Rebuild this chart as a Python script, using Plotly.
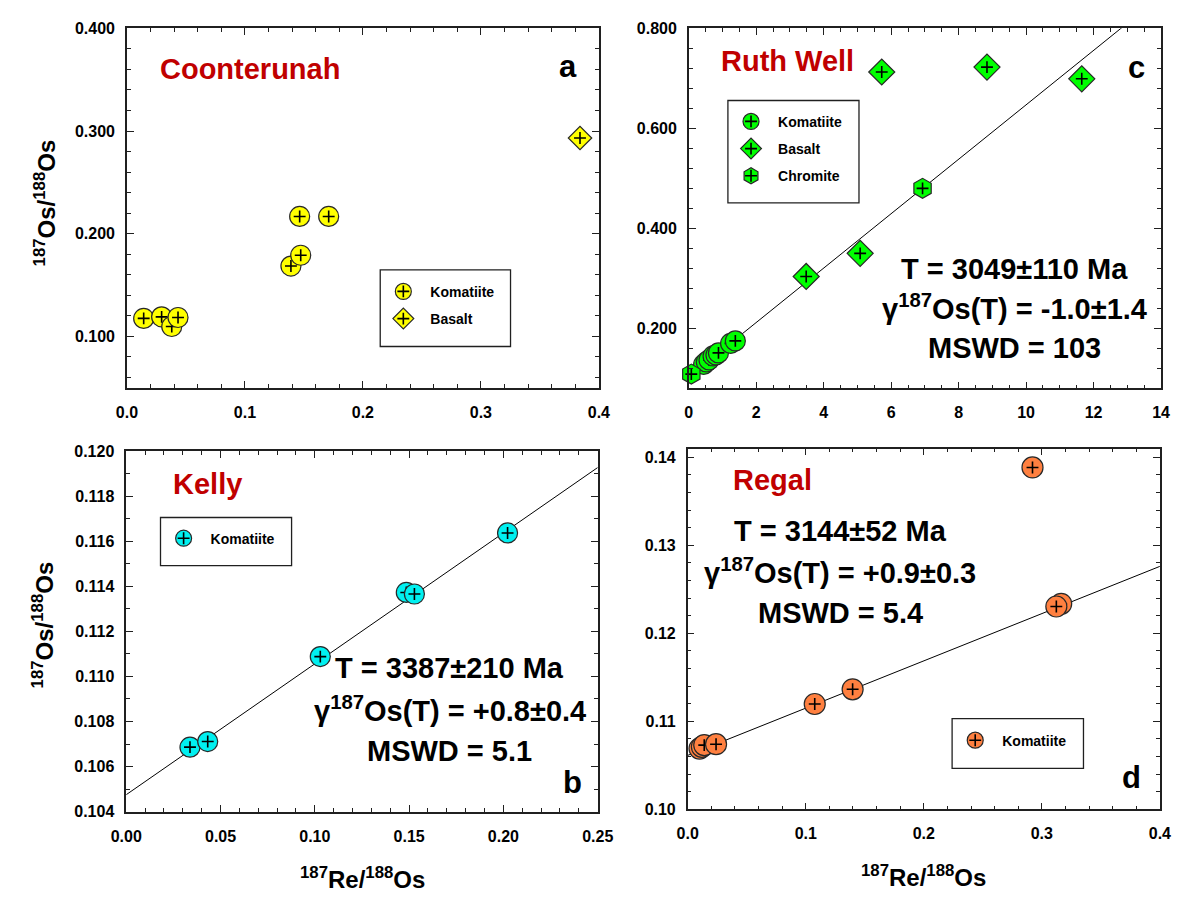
import plotly.graph_objects as go

FONT = "Liberation Sans, Arial, Helvetica, sans-serif"
W, H = 1189, 903

# ---------------- data ----------------
# (a) Coonterunah
coon_kom_re = [0.0142, 0.0294, 0.0380, 0.0433, 0.1390, 0.1473, 0.1464, 0.1710]
coon_kom_os = [0.1175, 0.1190, 0.1096, 0.1184, 0.1685, 0.1790, 0.2168, 0.2168]
coon_bas_re = [0.384]
coon_bas_os = [0.2932]

# (c) Ruth Well
ruth_kom_re = [0.44, 0.52, 0.60, 0.72, 0.805, 0.88, 1.24, 1.38]
ruth_kom_os = [0.128, 0.133, 0.137, 0.145, 0.147, 0.151, 0.170, 0.175]
ruth_bas_re = [5.72, 8.84, 11.65, 3.48, 5.08]
ruth_bas_os = [0.7126, 0.7224, 0.6990, 0.3038, 0.3500]
ruth_chr_re = [0.075, 6.93]
ruth_chr_os = [0.1086, 0.4800]
ruth_fit = {"intercept": 0.103, "slope": 0.0544}

# (b) Kelly
kelly_kom_re = [0.0338, 0.0432, 0.1029, 0.1485, 0.1528, 0.2022]
kelly_kom_os = [0.10686, 0.10711, 0.11088, 0.11373, 0.11366, 0.11637]
kelly_fit = {"intercept": 0.10475, "slope": 0.0581}

# (d) Regal
regal_kom_re = [0.0100, 0.0120, 0.0140, 0.0240, 0.1076, 0.1397, 0.2921, 0.3164, 0.3123]
regal_kom_os = [0.1069, 0.1071, 0.1073, 0.1074, 0.11197, 0.11364, 0.13885, 0.12335, 0.12305]
regal_fit = {"intercept": 0.10613, "slope": 0.0537}

# isochron statistics
ruth_stats = ["T = 3049±110 Ma", "γ<sup>187</sup>Os(T) = -1.0±1.4", "MSWD = 103"]
kelly_stats = ["T = 3387±210 Ma", "γ<sup>187</sup>Os(T) = +0.8±0.4", "MSWD = 5.1"]
regal_stats = ["T = 3144±52 Ma", "γ<sup>187</sup>Os(T) = +0.9±0.3", "MSWD = 5.4"]

YELLOW = "#FFFF00"
GREEN = "#00FF00"
CYAN = "#00F0F0"
ORANGE = "#FF8040"
EDGE = "#282828"
RED = "#C00000"


def px_x(v):
    return v / W


def px_y(v):
    return 1 - v / H


fig = go.Figure()

# symbol legend -> matching legend that carries the small crosses
CROSS_LEGEND = {"legend": "legend5", "legend2": "legend6",
                "legend3": "legend7", "legend4": "legend8"}


def add_series(re, os_, axes, name, symbol, size, color, legend, group):
    """Each point: filled symbol, then a small black cross on top."""
    xa, ya = axes
    for i, (xv, yv) in enumerate(zip(re, os_)):
        first = i == 0
        fig.add_trace(go.Scatter(
            x=[xv], y=[yv], xaxis=xa, yaxis=ya, mode="markers",
            name=name, legend=legend, legendgroup=group, showlegend=first,
            cliponaxis=False,
            marker=dict(symbol=symbol, size=size, color=color,
                        line=dict(color=EDGE, width=1.2)),
            hoverinfo="skip"))
        fig.add_trace(go.Scatter(
            x=[xv], y=[yv], xaxis=xa, yaxis=ya, mode="markers",
            name=" ", legend=CROSS_LEGEND[legend], legendgroup=group + "x",
            showlegend=first, cliponaxis=False,
            marker=dict(symbol="cross-thin", size=8.5, color="black",
                        line=dict(color="black", width=1.6)),
            hoverinfo="skip"))


def add_fit(fit, x_end, axes):
    xa, ya = axes
    xs = [0, x_end]
    ys = [fit["intercept"] + fit["slope"] * v for v in xs]
    fig.add_trace(go.Scatter(x=xs, y=ys, xaxis=xa, yaxis=ya, mode="lines",
                             line=dict(color="black", width=1),
                             showlegend=False, hoverinfo="skip"))


# fit lines first so symbols sit on top
add_fit(ruth_fit, 14, ("x2", "y2"))
add_fit(kelly_fit, 0.25, ("x3", "y3"))
add_fit(regal_fit, 0.4, ("x4", "y4"))

add_series(coon_kom_re, coon_kom_os, ("x", "y"), "Komatiite", "circle", 20, YELLOW, "legend", "a1")
add_series(coon_bas_re, coon_bas_os, ("x", "y"), "Basalt", "diamond", 18, YELLOW, "legend", "a2")

add_series(ruth_kom_re, ruth_kom_os, ("x2", "y2"), "Komatiite", "circle", 20, GREEN, "legend2", "c1")
add_series(ruth_bas_re, ruth_bas_os, ("x2", "y2"), "Basalt", "diamond", 20, GREEN, "legend2", "c2")
add_series(ruth_chr_re, ruth_chr_os, ("x2", "y2"), "Chromite", "hexagon", 20, GREEN, "legend2", "c3")

add_series(kelly_kom_re, kelly_kom_os, ("x3", "y3"), "Komatiite", "circle", 20, CYAN, "legend3", "b1")
add_series(regal_kom_re, regal_kom_os, ("x4", "y4"), "Komatiite", "circle", 21, ORANGE, "legend4", "d1")

# ---------------- axes ----------------
tickfont = dict(family=FONT, size=16, color="black", weight="bold")


def axis(domain, rng, dtick, minor, fmt, anchor, standoff):
    return dict(domain=domain, range=rng, dtick=dtick, tick0=0, tickformat=fmt,
                anchor=anchor, showgrid=False, zeroline=False,
                showline=True, linecolor="#202020", linewidth=1.5, mirror="allticks",
                ticks="inside", ticklen=7, tickwidth=1.2, tickcolor="#202020",
                minor=dict(dtick=minor, tick0=0, ticks="inside", ticklen=4,
                           tickwidth=1, tickcolor="#202020", showgrid=False),
                tickfont=tickfont, ticklabelstandoff=standoff)


xa = axis([px_x(114), px_x(599)], [0, 0.4], 0.1, 0.02, ".1f", "y", 9)
ya = axis([px_y(387), px_y(20.7)], [0.05, 0.4], 0.1, 0.02, ".3f", "x", 7)
xc = axis([px_x(691.4), px_x(1176.7)], [0, 14], 2, 0.5, "d", "y2", 9)
yc = axis([px_y(387.7), px_y(20.7)], [0.08, 0.8], 0.2, 0.04, ".3f", "x2", 7)
xb = axis([px_x(113.3), px_x(597.8)], [0, 0.25], 0.05, 0.01, ".2f", "y3", 9)
yb = axis([px_y(819), px_y(451.7)], [0.104, 0.120], 0.002, 0.001, ".3f", "x3", 7)
xd = axis([px_x(690.3), px_x(1175.5)], [0, 0.4], 0.1, 0.02, ".1f", "y4", 9)
yd = axis([px_y(816.7), px_y(449)], [0.10, 0.141], 0.01, 0.002, ".2f", "x4", 7)

# ---------------- legends ----------------
boxes = {
    "legend": (374.3, 267, 508.2, 345),
    "legend2": (731.6, 94.3, 866.3, 198.7),
    "legend3": (148.5, 519.3, 283.2, 568.3),
    "legend4": (962, 724.3, 1097, 775),
}


def legend_cfg(x0, y0, x1, y1):
    return dict(x=px_x(x0 - 4), y=px_y((y0 + y1) / 2 - 3), xanchor="left",
                yanchor="middle", bgcolor="rgba(0,0,0,0)", borderwidth=0,
                font=dict(family=FONT, size=14, color="black", weight="bold"),
                itemsizing="trace", tracegroupgap=6, itemwidth=44,
                traceorder="grouped")


layout_legends = {}
shapes = []
for key, (x0, y0, x1, y1) in boxes.items():
    layout_legends[key] = legend_cfg(x0, y0, x1, y1)
    layout_legends[CROSS_LEGEND[key]] = legend_cfg(x0, y0, x1, y1)
    shapes.append(dict(type="rect", xref="paper", yref="paper",
                       x0=px_x(x0), x1=px_x(x1), y0=px_y(y1), y1=px_y(y0),
                       line=dict(color="#202020", width=1.3), fillcolor="white",
                       layer="below"))

# ---------------- text ----------------
ann = []


def text(x, y, s, size, color="black", angle=0):
    ann.append(dict(x=px_x(x), y=px_y(y), xref="paper", yref="paper", text=s,
                    showarrow=False, xanchor="center", yanchor="middle",
                    textangle=angle,
                    font=dict(family=FONT, size=size, color=color, weight="bold")))


# site names
text(240, 62, "Coonterunah", 29, RED)
text(793, 54, "Ruth Well", 29, RED)
text(197, 485, "Kelly", 29, RED)
text(777, 481, "Regal", 29, RED)

# panel letters
text(567.5, 60, "a", 31)
text(1152, 61, "c", 31)
text(572, 789, "b", 31)
text(1146, 784, "d", 31)

# isochron results
for (cx, ys), lines in (((1026, (266, 305, 347)), ruth_stats),
                         ((446, (673, 714, 757)), kelly_stats),
                         ((847, (533, 574, 617)), regal_stats)):
    for yv, s in zip(ys, lines):
        text(cx, yv, s, 29)

# axis titles
YT = "<sup>187</sup>Os/<sup>188</sup>Os"
XT = "<sup>187</sup>Re/<sup>188</sup>Os"
text(30, 199, YT, 24, angle=-90)
text(28, 629, YT, 24, angle=-90)
text(356, 887, XT, 24)
text(933, 885, XT, 24)

fig.update_layout(
    width=W, height=H, margin=dict(l=0, r=0, t=0, b=0),
    paper_bgcolor="white", plot_bgcolor="rgba(0,0,0,0)",
    xaxis=xa, yaxis=ya, xaxis2=xc, yaxis2=yc,
    xaxis3=xb, yaxis3=yb, xaxis4=xd, yaxis4=yd,
    shapes=shapes, annotations=ann,
    **layout_legends,
)

fig.write_html("out.html")
